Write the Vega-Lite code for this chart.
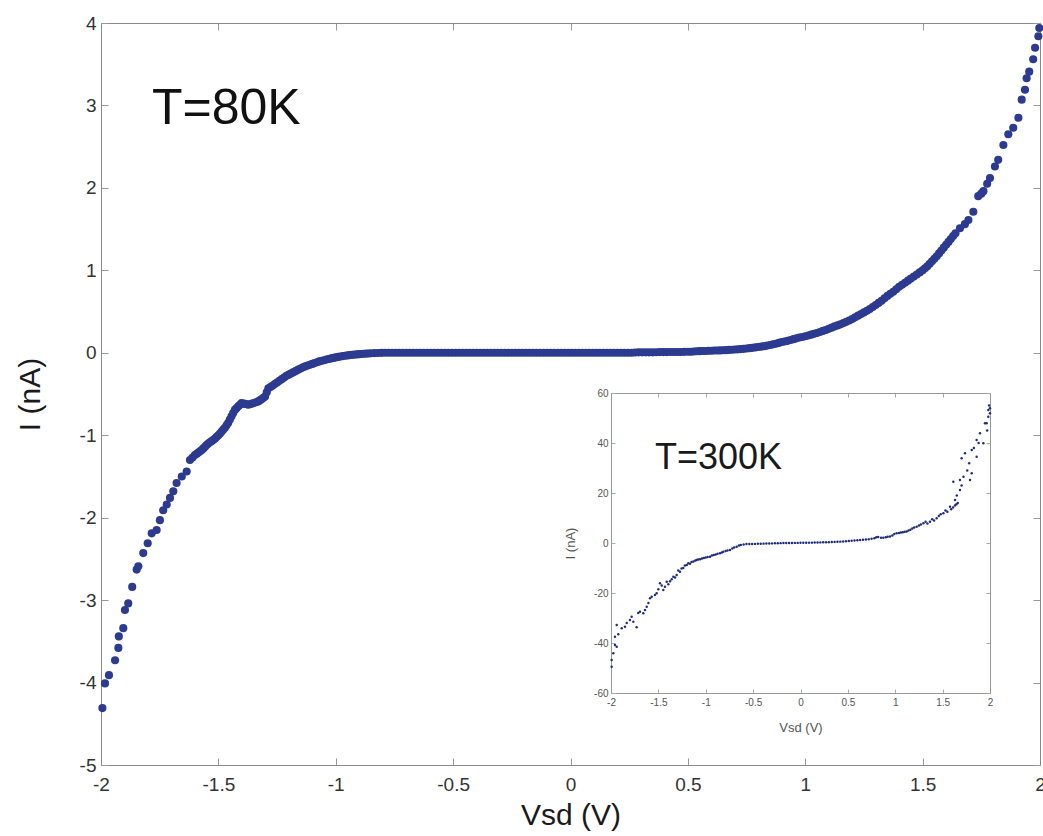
{
  "$schema": "https://vega.github.io/schema/vega-lite/v6.json",
  "width": 939,
  "height": 742,
  "autosize": "none",
  "padding": {"left": 101, "top": 23, "right": 3, "bottom": 71},
  "background": "white",
  "config": {
    "view": {"stroke": null},
    "font": "Liberation Sans",
    "locale": {"number": {"decimal": ".", "thousands": ",", "grouping": [3], "currency": ["$", ""], "minus": "-"}}
  },
  "datasets": {
    "main": [
      {"v": -1.994, "i": -4.31}, {"v": -1.983, "i": -4.01}, {"v": -1.966, "i": -3.91}, {"v": -1.94, "i": -3.73},
      {"v": -1.926, "i": -3.58}, {"v": -1.924, "i": -3.44}, {"v": -1.905, "i": -3.34}, {"v": -1.898, "i": -3.12},
      {"v": -1.884, "i": -3.04}, {"v": -1.867, "i": -2.84}, {"v": -1.848, "i": -2.63}, {"v": -1.841, "i": -2.59},
      {"v": -1.82, "i": -2.43}, {"v": -1.801, "i": -2.31}, {"v": -1.784, "i": -2.19}, {"v": -1.763, "i": -2.15},
      {"v": -1.749, "i": -2.03}, {"v": -1.735, "i": -1.91}, {"v": -1.72, "i": -1.84}, {"v": -1.706, "i": -1.76},
      {"v": -1.692, "i": -1.68}, {"v": -1.678, "i": -1.58}, {"v": -1.656, "i": -1.5}, {"v": -1.635, "i": -1.44},
      {"v": -1.621, "i": -1.3}, {"v": -1.61, "i": -1.27}, {"v": -1.6, "i": -1.24}, {"v": -1.592, "i": -1.225},
      {"v": -1.585, "i": -1.21}, {"v": -1.578, "i": -1.195}, {"v": -1.571, "i": -1.18}, {"v": -1.564, "i": -1.16},
      {"v": -1.557, "i": -1.14}, {"v": -1.55, "i": -1.12}, {"v": -1.543, "i": -1.1}, {"v": -1.536, "i": -1.085},
      {"v": -1.528, "i": -1.07}, {"v": -1.521, "i": -1.055}, {"v": -1.514, "i": -1.04}, {"v": -1.507, "i": -1.02},
      {"v": -1.5, "i": -1.0}, {"v": -1.493, "i": -0.98}, {"v": -1.486, "i": -0.955}, {"v": -1.479, "i": -0.93},
      {"v": -1.472, "i": -0.91}, {"v": -1.465, "i": -0.88}, {"v": -1.458, "i": -0.85}, {"v": -1.451, "i": -0.81},
      {"v": -1.444, "i": -0.77}, {"v": -1.437, "i": -0.73}, {"v": -1.429, "i": -0.69}, {"v": -1.422, "i": -0.67},
      {"v": -1.415, "i": -0.65}, {"v": -1.408, "i": -0.63}, {"v": -1.401, "i": -0.61}, {"v": -1.393, "i": -0.615},
      {"v": -1.386, "i": -0.62}, {"v": -1.379, "i": -0.625}, {"v": -1.372, "i": -0.63}, {"v": -1.361, "i": -0.62},
      {"v": -1.35, "i": -0.61}, {"v": -1.34, "i": -0.6}, {"v": -1.33, "i": -0.59}, {"v": -1.322, "i": -0.575},
      {"v": -1.315, "i": -0.56}, {"v": -1.308, "i": -0.545}, {"v": -1.301, "i": -0.53}, {"v": -1.294, "i": -0.48},
      {"v": -1.287, "i": -0.43}, {"v": -1.278, "i": -0.415}, {"v": -1.27, "i": -0.4}, {"v": -1.26, "i": -0.38},
      {"v": -1.25, "i": -0.36}, {"v": -1.24, "i": -0.34}, {"v": -1.23, "i": -0.32}, {"v": -1.22, "i": -0.3},
      {"v": -1.21, "i": -0.28}, {"v": -1.2, "i": -0.265}, {"v": -1.19, "i": -0.25}, {"v": -1.18, "i": -0.235},
      {"v": -1.17, "i": -0.22}, {"v": -1.16, "i": -0.205}, {"v": -1.15, "i": -0.19}, {"v": -1.14, "i": -0.177},
      {"v": -1.13, "i": -0.165}, {"v": -1.12, "i": -0.155}, {"v": -1.11, "i": -0.145}, {"v": -1.1, "i": -0.135},
      {"v": -1.09, "i": -0.125}, {"v": -1.08, "i": -0.115}, {"v": -1.07, "i": -0.105}, {"v": -1.06, "i": -0.097},
      {"v": -1.05, "i": -0.09}, {"v": -1.04, "i": -0.082}, {"v": -1.03, "i": -0.075}, {"v": -1.02, "i": -0.068},
      {"v": -1.01, "i": -0.062}, {"v": -1.0, "i": -0.056}, {"v": -0.99, "i": -0.05}, {"v": -0.98, "i": -0.045},
      {"v": -0.97, "i": -0.04}, {"v": -0.96, "i": -0.036}, {"v": -0.95, "i": -0.032}, {"v": -0.94, "i": -0.028},
      {"v": -0.93, "i": -0.025}, {"v": -0.92, "i": -0.022}, {"v": -0.91, "i": -0.02}, {"v": -0.9, "i": -0.017},
      {"v": -0.89, "i": -0.015}, {"v": -0.88, "i": -0.012}, {"v": -0.87, "i": -0.01}, {"v": -0.86, "i": -0.008},
      {"v": -0.85, "i": -0.006}, {"v": -0.835, "i": -0.004}, {"v": -0.82, "i": -0.003}, {"v": -0.805, "i": -0.001},
      {"v": -0.79, "i": 0}, {"v": -0.775, "i": 0}, {"v": -0.76, "i": 0}, {"v": -0.745, "i": 0},
      {"v": -0.73, "i": 0}, {"v": -0.715, "i": 0}, {"v": -0.7, "i": 0}, {"v": -0.685, "i": 0},
      {"v": -0.67, "i": 0}, {"v": -0.655, "i": 0}, {"v": -0.64, "i": 0}, {"v": -0.625, "i": 0},
      {"v": -0.61, "i": 0}, {"v": -0.595, "i": 0}, {"v": -0.58, "i": 0}, {"v": -0.565, "i": 0},
      {"v": -0.55, "i": 0}, {"v": -0.535, "i": 0}, {"v": -0.52, "i": 0}, {"v": -0.505, "i": 0},
      {"v": -0.49, "i": 0}, {"v": -0.475, "i": 0}, {"v": -0.46, "i": 0}, {"v": -0.445, "i": 0},
      {"v": -0.43, "i": 0}, {"v": -0.415, "i": 0}, {"v": -0.4, "i": 0}, {"v": -0.385, "i": 0},
      {"v": -0.37, "i": 0}, {"v": -0.355, "i": 0}, {"v": -0.34, "i": 0}, {"v": -0.325, "i": 0},
      {"v": -0.31, "i": 0}, {"v": -0.295, "i": 0}, {"v": -0.28, "i": 0}, {"v": -0.265, "i": 0},
      {"v": -0.25, "i": 0}, {"v": -0.235, "i": 0}, {"v": -0.22, "i": 0}, {"v": -0.205, "i": 0},
      {"v": -0.19, "i": 0}, {"v": -0.175, "i": 0}, {"v": -0.16, "i": 0}, {"v": -0.145, "i": 0},
      {"v": -0.13, "i": 0}, {"v": -0.115, "i": 0}, {"v": -0.1, "i": 0}, {"v": -0.085, "i": 0},
      {"v": -0.07, "i": 0}, {"v": -0.055, "i": 0}, {"v": -0.04, "i": 0}, {"v": -0.025, "i": 0},
      {"v": -0.01, "i": 0}, {"v": 0.005, "i": 0}, {"v": 0.02, "i": 0}, {"v": 0.035, "i": 0},
      {"v": 0.05, "i": 0}, {"v": 0.065, "i": 0}, {"v": 0.08, "i": 0}, {"v": 0.095, "i": 0},
      {"v": 0.11, "i": 0}, {"v": 0.125, "i": 0}, {"v": 0.14, "i": 0}, {"v": 0.155, "i": 0},
      {"v": 0.17, "i": 0}, {"v": 0.185, "i": 0}, {"v": 0.2, "i": 0}, {"v": 0.215, "i": 0},
      {"v": 0.23, "i": 0}, {"v": 0.245, "i": 0}, {"v": 0.26, "i": 0}, {"v": 0.275, "i": 0.003},
      {"v": 0.29, "i": 0.005}, {"v": 0.305, "i": 0.005}, {"v": 0.32, "i": 0.005}, {"v": 0.335, "i": 0.005},
      {"v": 0.35, "i": 0.005}, {"v": 0.365, "i": 0.007}, {"v": 0.38, "i": 0.008}, {"v": 0.395, "i": 0.008},
      {"v": 0.41, "i": 0.008}, {"v": 0.425, "i": 0.009}, {"v": 0.44, "i": 0.01}, {"v": 0.455, "i": 0.01},
      {"v": 0.47, "i": 0.01}, {"v": 0.485, "i": 0.011}, {"v": 0.5, "i": 0.012}, {"v": 0.5125, "i": 0.013},
      {"v": 0.525, "i": 0.015}, {"v": 0.5375, "i": 0.018}, {"v": 0.55, "i": 0.02}, {"v": 0.5625, "i": 0.021},
      {"v": 0.575, "i": 0.022}, {"v": 0.5875, "i": 0.024}, {"v": 0.6, "i": 0.025}, {"v": 0.6125, "i": 0.027},
      {"v": 0.625, "i": 0.028}, {"v": 0.6375, "i": 0.029}, {"v": 0.65, "i": 0.03}, {"v": 0.6625, "i": 0.032},
      {"v": 0.675, "i": 0.035}, {"v": 0.6875, "i": 0.037}, {"v": 0.7, "i": 0.04}, {"v": 0.7125, "i": 0.042},
      {"v": 0.725, "i": 0.045}, {"v": 0.7375, "i": 0.048}, {"v": 0.75, "i": 0.052}, {"v": 0.7625, "i": 0.056},
      {"v": 0.775, "i": 0.06}, {"v": 0.7875, "i": 0.065}, {"v": 0.8, "i": 0.07}, {"v": 0.8125, "i": 0.075},
      {"v": 0.825, "i": 0.08}, {"v": 0.8375, "i": 0.087}, {"v": 0.85, "i": 0.095}, {"v": 0.8625, "i": 0.102},
      {"v": 0.875, "i": 0.11}, {"v": 0.8875, "i": 0.12}, {"v": 0.9, "i": 0.13}, {"v": 0.9125, "i": 0.137},
      {"v": 0.925, "i": 0.145}, {"v": 0.9375, "i": 0.155}, {"v": 0.95, "i": 0.165}, {"v": 0.9625, "i": 0.175},
      {"v": 0.975, "i": 0.185}, {"v": 0.9875, "i": 0.192}, {"v": 1.0, "i": 0.2}, {"v": 1.0125, "i": 0.21},
      {"v": 1.025, "i": 0.22}, {"v": 1.0375, "i": 0.23}, {"v": 1.05, "i": 0.24}, {"v": 1.0625, "i": 0.252},
      {"v": 1.075, "i": 0.265}, {"v": 1.0875, "i": 0.277}, {"v": 1.1, "i": 0.29}, {"v": 1.1125, "i": 0.305},
      {"v": 1.125, "i": 0.32}, {"v": 1.1375, "i": 0.332}, {"v": 1.15, "i": 0.345}, {"v": 1.1625, "i": 0.36},
      {"v": 1.175, "i": 0.375}, {"v": 1.1875, "i": 0.392}, {"v": 1.2, "i": 0.41}, {"v": 1.2125, "i": 0.43},
      {"v": 1.225, "i": 0.45}, {"v": 1.2375, "i": 0.47}, {"v": 1.25, "i": 0.49}, {"v": 1.2625, "i": 0.51},
      {"v": 1.275, "i": 0.53}, {"v": 1.2875, "i": 0.555}, {"v": 1.3, "i": 0.58}, {"v": 1.3125, "i": 0.605},
      {"v": 1.325, "i": 0.63}, {"v": 1.3375, "i": 0.66}, {"v": 1.35, "i": 0.69}, {"v": 1.3625, "i": 0.715},
      {"v": 1.375, "i": 0.74}, {"v": 1.3875, "i": 0.77}, {"v": 1.4, "i": 0.8}, {"v": 1.4125, "i": 0.825},
      {"v": 1.425, "i": 0.85}, {"v": 1.4375, "i": 0.875}, {"v": 1.45, "i": 0.9}, {"v": 1.4625, "i": 0.925},
      {"v": 1.475, "i": 0.95}, {"v": 1.4875, "i": 0.975}, {"v": 1.5, "i": 1.0}, {"v": 1.51, "i": 1.025},
      {"v": 1.52, "i": 1.05}, {"v": 1.53, "i": 1.08}, {"v": 1.54, "i": 1.11}, {"v": 1.55, "i": 1.14},
      {"v": 1.56, "i": 1.17}, {"v": 1.57, "i": 1.205}, {"v": 1.58, "i": 1.24}, {"v": 1.59, "i": 1.275},
      {"v": 1.6, "i": 1.31}, {"v": 1.61, "i": 1.345}, {"v": 1.62, "i": 1.38}, {"v": 1.63, "i": 1.415},
      {"v": 1.64, "i": 1.45}, {"v": 1.659, "i": 1.51}, {"v": 1.68, "i": 1.56}, {"v": 1.695, "i": 1.61},
      {"v": 1.716, "i": 1.71}, {"v": 1.737, "i": 1.9}, {"v": 1.75, "i": 1.93}, {"v": 1.759, "i": 1.96},
      {"v": 1.775, "i": 2.05}, {"v": 1.787, "i": 2.12}, {"v": 1.808, "i": 2.26}, {"v": 1.822, "i": 2.34},
      {"v": 1.844, "i": 2.52}, {"v": 1.865, "i": 2.65}, {"v": 1.886, "i": 2.73}, {"v": 1.908, "i": 2.85},
      {"v": 1.922, "i": 3.07}, {"v": 1.936, "i": 3.19}, {"v": 1.943, "i": 3.33}, {"v": 1.954, "i": 3.41},
      {"v": 1.971, "i": 3.56}, {"v": 1.979, "i": 3.7}, {"v": 1.993, "i": 3.84}, {"v": 1.997, "i": 3.94}
    ],
    "inset": [
      {"v": -1.993, "i": -49.5}, {"v": -1.993, "i": -46.8}, {"v": -1.976, "i": -44.1}, {"v": -1.958, "i": -40.8},
      {"v": -1.94, "i": -41.5}, {"v": -1.958, "i": -37.5}, {"v": -1.94, "i": -32.8}, {"v": -1.923, "i": -36.5},
      {"v": -1.887, "i": -34.1}, {"v": -1.852, "i": -33.5}, {"v": -1.834, "i": -32.0}, {"v": -1.8, "i": -30.8},
      {"v": -1.782, "i": -29.5}, {"v": -1.764, "i": -31.5}, {"v": -1.729, "i": -33.7}, {"v": -1.712, "i": -28.0},
      {"v": -1.694, "i": -27.5}, {"v": -1.659, "i": -28.1}, {"v": -1.641, "i": -26.8}, {"v": -1.623, "i": -25.5},
      {"v": -1.605, "i": -24.0}, {"v": -1.588, "i": -22.1}, {"v": -1.57, "i": -21.5}, {"v": -1.536, "i": -20.8},
      {"v": -1.518, "i": -20.1}, {"v": -1.5, "i": -18.5}, {"v": -1.483, "i": -16.1}, {"v": -1.465, "i": -17.0},
      {"v": -1.448, "i": -18.8}, {"v": -1.43, "i": -17.5}, {"v": -1.412, "i": -15.5}, {"v": -1.395, "i": -16.5},
      {"v": -1.377, "i": -15.3}, {"v": -1.359, "i": -14.5}, {"v": -1.342, "i": -13.5}, {"v": -1.324, "i": -13.8},
      {"v": -1.307, "i": -12.8}, {"v": -1.29, "i": -11.0}, {"v": -1.272, "i": -11.5}, {"v": -1.255, "i": -10.2},
      {"v": -1.237, "i": -10.0}, {"v": -1.22, "i": -9.0}, {"v": -1.2, "i": -8.8}, {"v": -1.184, "i": -8.1},
      {"v": -1.166, "i": -8.3}, {"v": -1.15, "i": -7.6}, {"v": -1.13, "i": -7.4}, {"v": -1.11, "i": -7.0},
      {"v": -1.096, "i": -6.8}, {"v": -1.08, "i": -6.6}, {"v": -1.06, "i": -6.5}, {"v": -1.04, "i": -6.2},
      {"v": -1.02, "i": -6.0}, {"v": -1.0, "i": -5.8}, {"v": -0.98, "i": -5.6}, {"v": -0.955, "i": -5.5},
      {"v": -0.935, "i": -5.0}, {"v": -0.915, "i": -4.8}, {"v": -0.895, "i": -4.6}, {"v": -0.875, "i": -4.3},
      {"v": -0.85, "i": -4.1}, {"v": -0.83, "i": -3.8}, {"v": -0.815, "i": -3.5}, {"v": -0.79, "i": -3.2},
      {"v": -0.77, "i": -3.0}, {"v": -0.744, "i": -2.8}, {"v": -0.72, "i": -2.2}, {"v": -0.7, "i": -1.8},
      {"v": -0.674, "i": -1.5}, {"v": -0.65, "i": -1.0}, {"v": -0.63, "i": -0.8}, {"v": -0.6, "i": -0.6},
      {"v": -0.57, "i": -0.4}, {"v": -0.54, "i": -0.4}, {"v": -0.51, "i": -0.4}, {"v": -0.48, "i": -0.35},
      {"v": -0.45, "i": -0.3}, {"v": -0.42, "i": -0.3}, {"v": -0.39, "i": -0.25}, {"v": -0.36, "i": -0.2},
      {"v": -0.33, "i": -0.2}, {"v": -0.3, "i": -0.15}, {"v": -0.27, "i": -0.1}, {"v": -0.24, "i": -0.1},
      {"v": -0.21, "i": -0.05}, {"v": -0.18, "i": 0}, {"v": -0.15, "i": 0}, {"v": -0.12, "i": 0},
      {"v": -0.09, "i": 0}, {"v": -0.06, "i": 0.05}, {"v": -0.03, "i": 0.05}, {"v": 0, "i": 0.1},
      {"v": 0.03, "i": 0.1}, {"v": 0.06, "i": 0.1}, {"v": 0.09, "i": 0.15}, {"v": 0.12, "i": 0.15},
      {"v": 0.15, "i": 0.2}, {"v": 0.18, "i": 0.2}, {"v": 0.21, "i": 0.25}, {"v": 0.24, "i": 0.3},
      {"v": 0.27, "i": 0.3}, {"v": 0.3, "i": 0.35}, {"v": 0.33, "i": 0.4}, {"v": 0.36, "i": 0.45},
      {"v": 0.39, "i": 0.5}, {"v": 0.42, "i": 0.55}, {"v": 0.45, "i": 0.6}, {"v": 0.48, "i": 0.7},
      {"v": 0.51, "i": 0.8}, {"v": 0.54, "i": 0.9}, {"v": 0.57, "i": 1.0}, {"v": 0.6, "i": 1.1},
      {"v": 0.63, "i": 1.2}, {"v": 0.66, "i": 1.3}, {"v": 0.69, "i": 1.4}, {"v": 0.72, "i": 1.5},
      {"v": 0.75, "i": 1.7}, {"v": 0.78, "i": 1.9}, {"v": 0.8, "i": 2.3}, {"v": 0.82, "i": 2.4},
      {"v": 0.85, "i": 2.1}, {"v": 0.874, "i": 2.1}, {"v": 0.9, "i": 2.3}, {"v": 0.92, "i": 2.5},
      {"v": 0.945, "i": 2.6}, {"v": 0.97, "i": 3.0}, {"v": 0.99, "i": 3.6}, {"v": 1.015, "i": 3.9},
      {"v": 1.04, "i": 4.0}, {"v": 1.06, "i": 4.2}, {"v": 1.08, "i": 4.3}, {"v": 1.1, "i": 4.5},
      {"v": 1.12, "i": 4.6}, {"v": 1.14, "i": 5.0}, {"v": 1.16, "i": 5.3}, {"v": 1.18, "i": 5.8},
      {"v": 1.2, "i": 6.2}, {"v": 1.226, "i": 6.5}, {"v": 1.25, "i": 7.0}, {"v": 1.27, "i": 7.4},
      {"v": 1.297, "i": 7.9}, {"v": 1.32, "i": 8.5}, {"v": 1.34, "i": 7.8}, {"v": 1.367, "i": 8.5},
      {"v": 1.39, "i": 9.5}, {"v": 1.41, "i": 9.0}, {"v": 1.437, "i": 9.9}, {"v": 1.46, "i": 10.8},
      {"v": 1.48, "i": 11.5}, {"v": 1.508, "i": 11.9}, {"v": 1.53, "i": 13.0}, {"v": 1.55, "i": 12.5},
      {"v": 1.578, "i": 14.5}, {"v": 1.59, "i": 13.5}, {"v": 1.61, "i": 14.2}, {"v": 1.63, "i": 15.0},
      {"v": 1.645, "i": 15.5}, {"v": 1.66, "i": 16.0}, {"v": 1.631, "i": 17.2}, {"v": 1.65, "i": 19.0},
      {"v": 1.683, "i": 21.2}, {"v": 1.7, "i": 23.0}, {"v": 1.613, "i": 24.5}, {"v": 1.683, "i": 25.2},
      {"v": 1.72, "i": 26.5}, {"v": 1.701, "i": 33.9}, {"v": 1.736, "i": 35.9}, {"v": 1.789, "i": 25.2},
      {"v": 1.807, "i": 27.9}, {"v": 1.76, "i": 29.0}, {"v": 1.78, "i": 31.9}, {"v": 1.807, "i": 37.2},
      {"v": 1.83, "i": 38.0}, {"v": 1.859, "i": 41.2}, {"v": 1.859, "i": 34.5}, {"v": 1.88, "i": 40.0},
      {"v": 1.894, "i": 43.9}, {"v": 1.93, "i": 39.9}, {"v": 1.947, "i": 47.9}, {"v": 1.965, "i": 47.9},
      {"v": 1.97, "i": 45.0}, {"v": 1.982, "i": 50.5}, {"v": 1.982, "i": 53.2}, {"v": 1.99, "i": 55.0},
      {"v": 2.0, "i": 53.9}, {"v": 2.0, "i": 51.9}
    ],
    "lab80": [{"v": -1.783, "i": 2.78, "t": "T=80K"}],
    "lab300": [{"v": -1.536, "i": 29.5, "t": "T=300K"}]
  },
  "layer": [
    {
      "layer": [
        {
          "data": {"name": "main"},
          "mark": {"type": "point", "filled": true, "shape": "circle", "size": 66, "color": "#2c3a90", "opacity": 1},
          "encoding": {
            "x": {"field": "v", "type": "quantitative", "scale": {"domain": [-2, 2], "nice": false, "zero": false},
              "axis": {"orient": "bottom", "values": [-2, -1.5, -1, -0.5, 0, 0.5, 1, 1.5, 2], "format": "~g", "grid": false,
                "title": "Vsd (V)", "titleFontSize": 30, "titleFontWeight": "normal", "titleColor": "#1a1a1a", "titlePadding": 6,
                "labelFontSize": 19, "labelColor": "#333333", "labelPadding": 17, "labelFlush": false, "labelOverlap": false,
                "tickSize": -7, "tickColor": "#999999", "domainColor": "#8a8a8a"}},
            "y": {"field": "i", "type": "quantitative", "scale": {"domain": [-5, 4], "nice": false, "zero": false},
              "axis": {"orient": "left", "values": [-5, -4, -3, -2, -1, 0, 1, 2, 3, 4], "format": "d", "grid": false,
                "title": "I (nA)", "titleFontSize": 30, "titleFontWeight": "normal", "titleColor": "#1a1a1a", "titlePadding": 34,
                "labelFontSize": 19, "labelColor": "#333333", "labelPadding": 12, "labelFlush": false, "labelOverlap": false,
                "tickSize": -7, "tickColor": "#999999", "domainColor": "#8a8a8a"}}
          }
        },
        {
          "data": {"name": "lab80"},
          "mark": {"type": "text", "align": "left", "baseline": "alphabetic", "fontSize": 50, "color": "#111111"},
          "encoding": {
            "x": {"field": "v", "type": "quantitative", "scale": {"domain": [-2, 2], "nice": false, "zero": false},
              "axis": {"orient": "top", "values": [-2, -1.5, -1, -0.5, 0, 0.5, 1, 1.5, 2], "labels": false, "title": null, "grid": false,
                "tickSize": -7, "tickColor": "#999999", "domainColor": "#8a8a8a"}},
            "y": {"field": "i", "type": "quantitative", "scale": {"domain": [-5, 4], "nice": false, "zero": false},
              "axis": {"orient": "right", "values": [-5, -4, -3, -2, -1, 0, 1, 2, 3, 4], "labels": false, "title": null, "grid": false,
                "tickSize": -7, "tickColor": "#999999", "domainColor": "#8a8a8a"}},
            "text": {"field": "t"}
          }
        }
      ],
      "resolve": {"axis": {"x": "independent", "y": "independent"}}
    },
    {
      "layer": [
        {
          "data": {"name": "inset"},
          "mark": {"type": "point", "filled": true, "shape": "circle", "size": 6, "color": "#1f2c7c", "opacity": 1},
          "encoding": {
            "x": {"field": "v", "type": "quantitative", "scale": {"domain": [-2, 2], "nice": false, "zero": false, "range": [510, 889]},
              "axis": {"orient": "bottom", "offset": -72, "values": [-2, -1.5, -1, -0.5, 0, 0.5, 1, 1.5, 2], "format": "~g", "grid": false,
                "title": "Vsd (V)", "titleFontSize": 13, "titleFontWeight": "normal", "titleColor": "#555555", "titlePadding": 14,
                "labelFontSize": 10, "labelColor": "#555555", "labelPadding": 8, "labelFlush": false, "labelOverlap": false,
                "tickSize": -4, "tickColor": "#aaaaaa", "domainColor": "#999999"}},
            "y": {"field": "i", "type": "quantitative", "scale": {"domain": [-60, 60], "nice": false, "zero": false, "range": [670, 370]},
              "axis": {"orient": "left", "offset": -510, "values": [-60, -40, -20, 0, 20, 40, 60], "format": "d", "grid": false,
                "title": "I (nA)", "titleFontSize": 13, "titleFontWeight": "normal", "titleColor": "#555555", "titlePadding": 16,
                "labelFontSize": 10, "labelColor": "#555555", "labelPadding": 7, "labelFlush": false, "labelOverlap": false,
                "tickSize": -4, "tickColor": "#aaaaaa", "domainColor": "#999999"}}
          }
        },
        {
          "data": {"name": "lab300"},
          "mark": {"type": "text", "align": "left", "baseline": "alphabetic", "fontSize": 36, "color": "#1a1a1a"},
          "encoding": {
            "x": {"field": "v", "type": "quantitative", "scale": {"domain": [-2, 2], "nice": false, "zero": false, "range": [510, 889]},
              "axis": {"orient": "top", "offset": -370, "values": [-2, -1.5, -1, -0.5, 0, 0.5, 1, 1.5, 2], "labels": false, "title": null, "grid": false,
                "tickSize": -4, "tickColor": "#aaaaaa", "domainColor": "#999999"}},
            "y": {"field": "i", "type": "quantitative", "scale": {"domain": [-60, 60], "nice": false, "zero": false, "range": [670, 370]},
              "axis": {"orient": "right", "offset": -50, "values": [-60, -40, -20, 0, 20, 40, 60], "labels": false, "title": null, "grid": false,
                "tickSize": -4, "tickColor": "#aaaaaa", "domainColor": "#999999"}},
            "text": {"field": "t"}
          }
        }
      ],
      "resolve": {"axis": {"x": "independent", "y": "independent"}}
    }
  ],
  "resolve": {"scale": {"x": "independent", "y": "independent"}}
}
